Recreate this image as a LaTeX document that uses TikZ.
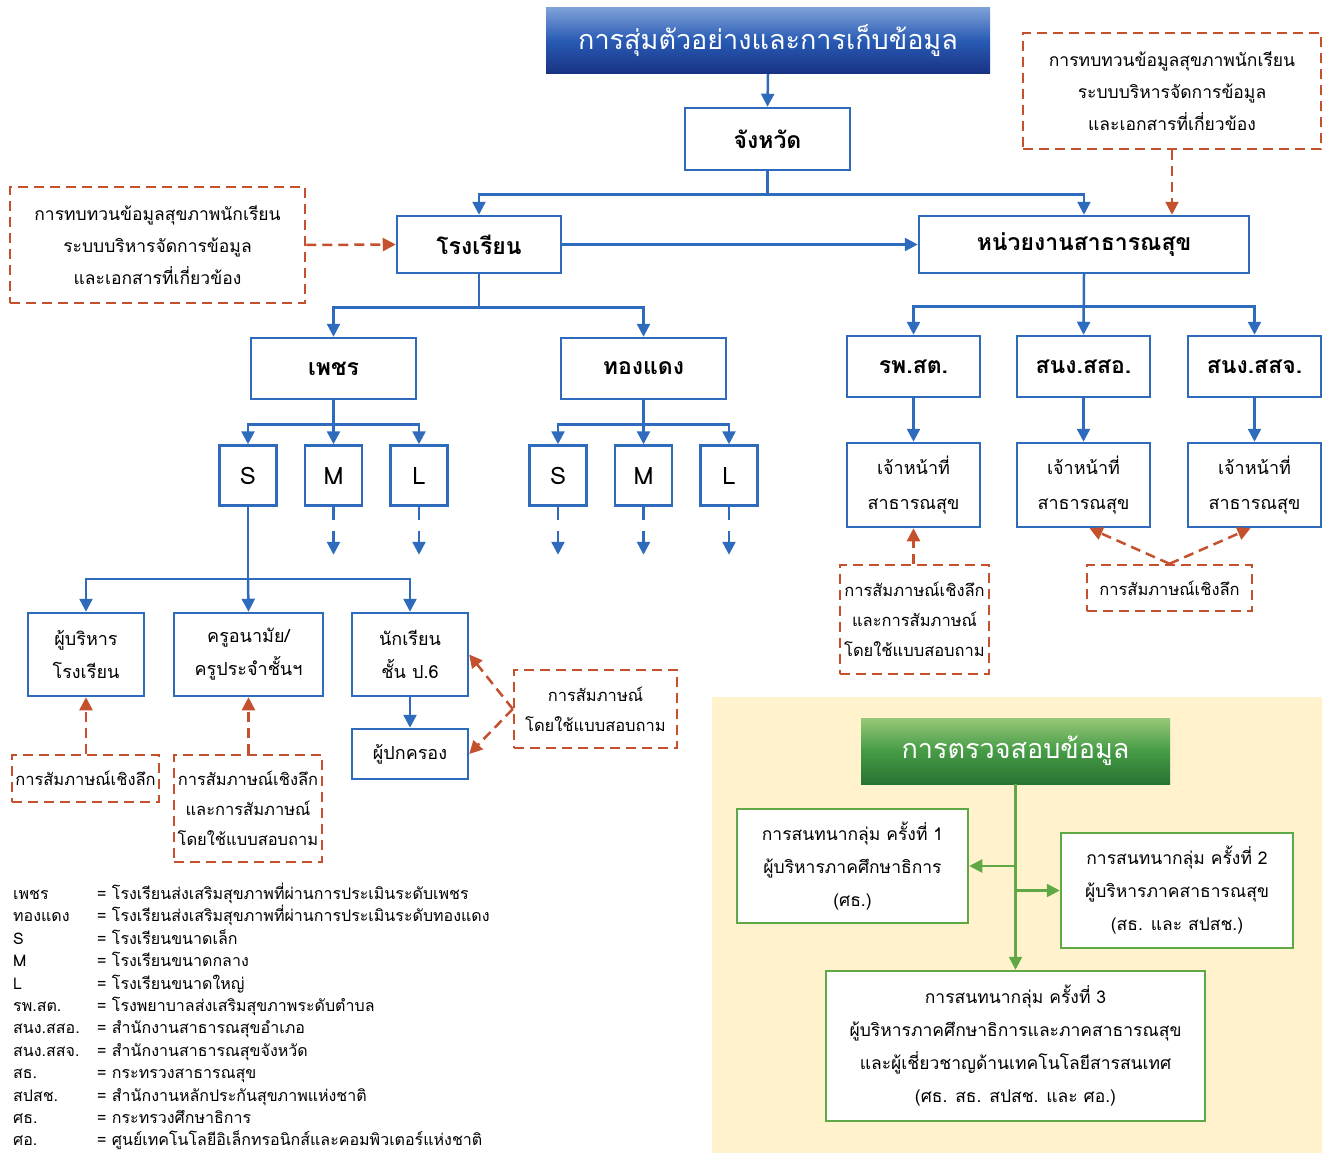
\documentclass[tikz,border=0pt]{standalone}
\usepackage{fontspec}
\setmainfont[Script=Thai]{Loma}
\usetikzlibrary{arrows.meta,calc}
\definecolor{bblue}{RGB}{46,107,188}
\definecolor{rred}{RGB}{197,80,45}
\definecolor{ggreen}{RGB}{94,168,70}
\definecolor{beige}{RGB}{255,242,204}
\definecolor{ttop}{RGB}{125,160,215}
\definecolor{tmid}{RGB}{40,90,180}
\definecolor{tbot}{RGB}{25,50,130}
\definecolor{gtop}{RGB}{150,200,120}
\definecolor{gmid}{RGB}{70,155,70}
\definecolor{gbot}{RGB}{40,115,50}
\newcommand{\fs}[2]{\fontsize{#1}{#2}\selectfont}
\tikzset{
  bbox/.style={draw=bblue,line width=2.5pt,fill=white,align=center,inner sep=0pt},
  rbox/.style={draw=rred,line width=2.5pt,dash pattern=on 10pt off 6pt,align=center,inner sep=0pt,font=\fs{17.5}{32}},
  gbox/.style={draw=ggreen,line width=2.5pt,fill=white,align=center,inner sep=0pt,font=\fs{17.5}{33}},
  bl/.style={draw=bblue,line width=2.5pt},
  bla/.style={bl,-{Triangle[width=13pt,length=13pt]}},
  bld/.style={bla,dash pattern=on 13pt off 11pt},
  rda/.style={draw=rred,line width=2.5pt,dash pattern=on 10pt off 6pt,-{Triangle[width=13pt,length=13pt]}},
  gra/.style={draw=ggreen,line width=2.5pt,-{Triangle[width=13pt,length=13pt]}},
  big/.style={font=\fs{23}{26}\bfseries},
  sml/.style={font=\fs{24}{26}},
  leg/.style={anchor=base west,inner sep=0pt,font=\fs{16}{18}},
}
\begin{document}
\begin{tikzpicture}[x=1pt,y=-1pt]
\useasboundingbox (0,0) rectangle (1325,1153);
% top title
\node[minimum width=444pt,minimum height=66pt,inner sep=0pt,top color=ttop,bottom color=tbot,middle color=tmid,text=white,font=\fs{27}{30}] (title) at (768,41) {การสุ่มตัวอย่างและการเก็บข้อมูล};
\node[bbox,big,minimum width=165pt,minimum height=62pt] (prov) at (767.5,139) {จังหวัด};
\node[bbox,big,minimum width=164pt,minimum height=57pt] (school) at (479,244.5) {โรงเรียน};
\node[bbox,big,minimum width=330pt,minimum height=57pt] (health) at (1084,244.5) {หน่วยงานสาธารณสุข};
\node[rbox,minimum width=295pt,minimum height=116pt] (lrev) at (157.5,245) {การทบทวนข้อมูลสุขภาพนักเรียน\\ระบบบริหารจัดการข้อมูล\\และเอกสารที่เกี่ยวข้อง};
\node[rbox,minimum width=298pt,minimum height=116pt] (rrev) at (1172,91) {การทบทวนข้อมูลสุขภาพนักเรียน\\ระบบบริหารจัดการข้อมูล\\และเอกสารที่เกี่ยวข้อง};
% school level
\node[bbox,big,minimum width=165pt,minimum height=61pt] (phet) at (333.5,368.5) {เพชร};
\node[bbox,big,minimum width=165pt,minimum height=61pt] (thong) at (643.5,368.5) {ทองแดง};
\node[bbox,sml,minimum width=57pt,minimum height=60pt] (S1) at (248,475.5) {S};
\node[bbox,sml,minimum width=57pt,minimum height=60pt] (M1) at (333.5,475.5) {M};
\node[bbox,sml,minimum width=57pt,minimum height=60pt] (L1) at (419,475.5) {L};
\node[bbox,sml,minimum width=57pt,minimum height=60pt] (S2) at (558,475.5) {S};
\node[bbox,sml,minimum width=57pt,minimum height=60pt] (M2) at (643.5,475.5) {M};
\node[bbox,sml,minimum width=57pt,minimum height=60pt] (L2) at (729,475.5) {L};
\node[bbox,font=\fs{18}{33},minimum width=116pt,minimum height=83pt] (exec) at (86,654.5) {ผู้บริหาร\\โรงเรียน};
\node[bbox,font=\fs{18}{33},minimum width=149pt,minimum height=83pt] (nurse) at (248.5,654.5) {ครูอนามัย/\\ครูประจำชั้นฯ};
\node[bbox,font=\fs{18}{33},minimum width=116pt,minimum height=83pt] (student) at (410,654.5) {นักเรียน\\ชั้น ป.6};
\node[bbox,font=\fs{18}{33},minimum width=116pt,minimum height=50pt] (parent) at (410,754) {ผู้ปกครอง};
\node[rbox,font=\fs{16.5}{30},minimum width=147pt,minimum height=47pt] (int1) at (85.5,778.5) {การสัมภาษณ์เชิงลึก};
\node[rbox,font=\fs{16.5}{30},minimum width=148pt,minimum height=107pt] (int2) at (248,808.5) {การสัมภาษณ์เชิงลึก\\และการสัมภาษณ์\\โดยใช้แบบสอบถาม};
\node[rbox,font=\fs{16.5}{30},minimum width=163pt,minimum height=78pt] (int3) at (595.5,709) {การสัมภาษณ์\\โดยใช้แบบสอบถาม};
% health level
\node[bbox,big,minimum width=133pt,minimum height=61pt] (rph) at (913.5,366.5) {รพ.สต.};
\node[bbox,big,minimum width=133pt,minimum height=61pt] (sso) at (1083.5,366.5) {สนง.สสอ.};
\node[bbox,big,minimum width=133pt,minimum height=61pt] (ssj) at (1254.5,366.5) {สนง.สสจ.};
\node[bbox,font=\fs{18}{35},minimum width=133pt,minimum height=84pt] (off1) at (913.5,485) {เจ้าหน้าที่\\สาธารณสุข};
\node[bbox,font=\fs{18}{35},minimum width=133pt,minimum height=84pt] (off2) at (1083.5,485) {เจ้าหน้าที่\\สาธารณสุข};
\node[bbox,font=\fs{18}{35},minimum width=133pt,minimum height=84pt] (off3) at (1254.5,485) {เจ้าหน้าที่\\สาธารณสุข};
\node[rbox,font=\fs{16.5}{30},minimum width=149pt,minimum height=109pt] (int4) at (914.5,619.5) {การสัมภาษณ์เชิงลึก\\และการสัมภาษณ์\\โดยใช้แบบสอบถาม};
\node[rbox,font=\fs{16.5}{30},minimum width=165pt,minimum height=46pt] (int5) at (1169.5,588) {การสัมภาษณ์เชิงลึก};
% connectors top
\draw[bla] (title.south) -- (prov.north);
\draw[bl] (prov.south) -- ++(0,23) coordinate (pj);
\draw[bla] (pj) -| (school.north);
\draw[bla] (pj) -| (health.north);
\draw[bla] (school.east) -- (health.west);
\draw[rda] (lrev.east) -- (school.west);
\draw[rda] (rrev.south) -- (rrev.south |- health.north);
\draw[bl] (school.south) -- ++(0,33) coordinate (ps);
\draw[bla] (ps) -| (phet.north);
\draw[bla] (ps) -| (thong.north);
\draw[bl] (phet.south) -- ++(0,24) coordinate (pp);
\draw[bla] (pp) -| (S1.north);
\draw[bla] (phet.south) -- (M1.north);
\draw[bla] (pp) -| (L1.north);
\draw[bl] (thong.south) -- ++(0,24) coordinate (pt);
\draw[bla] (pt) -| (S2.north);
\draw[bla] (thong.south) -- (M2.north);
\draw[bla] (pt) -| (L2.north);
\foreach \n in {M1,L1,S2,M2,L2} \draw[bld] (\n.south) -- ++(0,48);
\draw[bl] (S1.south) -- ++(0,72) coordinate (pk);
\draw[bla] (pk) -| (exec.north);
\draw[bla] (pk) -- (nurse.north);
\draw[bla] (pk) -| (student.north);
\draw[bla] (student.south) -- (parent.north);
\draw[rda] (exec.south |- int1.north) -- (exec.south);
\draw[rda] (nurse.south |- int2.north) -- (nurse.south);
\draw[rda] (int3.west) -- (student.east);
\draw[rda] (int3.west) -- (parent.east);
\draw[bl] (health.south) -- ++(0,32) coordinate (ph);
\draw[bla] (ph) -| (rph.north);
\draw[bla] (health.south) -- (sso.north);
\draw[bla] (ph) -| (ssj.north);
\draw[bla] (rph.south) -- (off1.north);
\draw[bla] (sso.south) -- (off2.north);
\draw[bla] (ssj.south) -- (off3.north);
\draw[rda] (off1.south |- int4.north) -- (off1.south);
\draw[rda] (int5.north) -- ([xshift=6pt]off2.south);
\draw[rda] (int5.north) -- ([xshift=-4pt]off3.south);
% verification panel
\fill[beige] (712,697) rectangle (1322,1153);
\node[minimum width=309pt,minimum height=66pt,inner sep=0pt,top color=gtop,bottom color=gbot,middle color=gmid,text=white,font=\fs{27}{30}] (gtitle) at (1015.5,751) {การตรวจสอบข้อมูล};
\node[gbox,minimum width=231pt,minimum height=114pt] (fg1) at (852.5,866) {การสนทนากลุ่ม ครั้งที่ 1\\ผู้บริหารภาคศึกษาธิการ\\(ศธ.)};
\node[gbox,minimum width=232pt,minimum height=115pt] (fg2) at (1177,890.5) {การสนทนากลุ่ม ครั้งที่ 2\\ผู้บริหารภาคสาธารณสุข\\(สธ. และ สปสช.)};
\node[gbox,minimum width=379pt,minimum height=150pt] (fg3) at (1015.5,1046) {การสนทนากลุ่ม ครั้งที่ 3\\ผู้บริหารภาคศึกษาธิการและภาคสาธารณสุข\\และผู้เชี่ยวชาญด้านเทคโนโลยีสารสนเทศ\\(ศธ. สธ. สปสช. และ ศอ.)};
\draw[gra] (gtitle.south) -- (fg3.north);
\draw[gra] (gtitle.south |- fg1.east) -- (fg1.east);
\draw[gra] (gtitle.south |- fg2.west) -- (fg2.west);
% legend
\foreach \a/\b [count=\i] in {เพชร/โรงเรียนส่งเสริมสุขภาพที่ผ่านการประเมินระดับเพชร,
  ทองแดง/โรงเรียนส่งเสริมสุขภาพที่ผ่านการประเมินระดับทองแดง,
  S/โรงเรียนขนาดเล็ก, M/โรงเรียนขนาดกลาง, L/โรงเรียนขนาดใหญ่,
  รพ.สต./โรงพยาบาลส่งเสริมสุขภาพระดับตำบล,
  สนง.สสอ./สำนักงานสาธารณสุขอำเภอ, สนง.สสจ./สำนักงานสาธารณสุขจังหวัด,
  สธ./กระทรวงสาธารณสุข, สปสช./สำนักงานหลักประกันสุขภาพแห่งชาติ,
  ศธ./กระทรวงศึกษาธิการ, ศอ./ศูนย์เทคโนโลยีอิเล็กทรอนิกส์และคอมพิวเตอร์แห่งชาติ} {
  \node[leg] (la\i) at (13,{877+22.4*\i}) {\a};
  \node[leg] (lb\i) at (97,{877+22.4*\i}) {= \b};
}
\end{tikzpicture}
\end{document}
